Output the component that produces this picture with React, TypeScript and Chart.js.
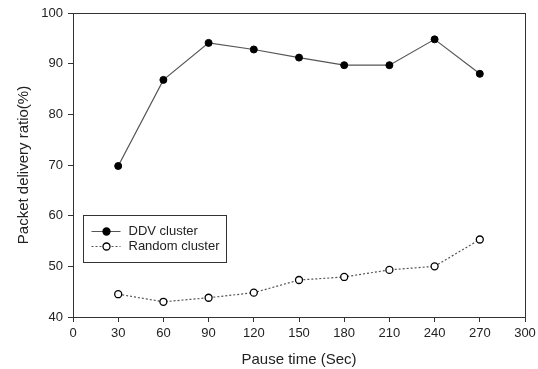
import React, { useEffect, useRef } from "react";
import { Chart, registerables } from "chart.js";

Chart.register(...registerables);

const pauseTimes = [30, 60, 90, 120, 150, 180, 210, 240, 270];
const ddvCluster = [69.8, 86.8, 94.1, 92.8, 91.2, 89.7, 89.7, 94.8, 88.0];
const randomCluster = [44.5, 43.0, 43.8, 44.8, 47.3, 47.9, 49.3, 50.0, 55.3];
const seriesNames = ["DDV cluster", "Random cluster"];
const xTitle = "Pause time (Sec)";
const yTitle = "Packet delivery ratio(%)";

const FONT = "'Liberation Sans', Arial, sans-serif";
const TEXT = "#222";

const frameAndLegend = {
  id: "frameAndLegend",
  afterDraw(chart: any) {
    const { ctx, chartArea } = chart;
    ctx.save();
    ctx.strokeStyle = "#333";
    ctx.lineWidth = 1;
    ctx.strokeRect(
      Math.round(chartArea.left) + 0.5,
      Math.round(chartArea.top) + 0.5,
      Math.round(chartArea.right - chartArea.left),
      Math.round(chartArea.bottom - chartArea.top)
    );
    // legend box
    const bx = chartArea.left + 10.5;
    const by = chartArea.top + 202.5;
    const bw = 143;
    const bh = 47;
    ctx.strokeStyle = "#333";
    ctx.fillStyle = "#fff";
    ctx.fillRect(bx, by, bw, bh);
    ctx.strokeRect(bx, by, bw, bh);
    const rows = [
      { y: by + 16, dash: [], fill: "#000", name: seriesNames[0] },
      { y: by + 31, dash: [2, 2], fill: "#fff", name: seriesNames[1] },
    ];
    ctx.font = `13px ${FONT}`;
    ctx.textBaseline = "middle";
    for (const r of rows) {
      ctx.beginPath();
      ctx.setLineDash(r.dash);
      ctx.strokeStyle = "#555";
      ctx.moveTo(bx + 8, r.y);
      ctx.lineTo(bx + 37, r.y);
      ctx.stroke();
      ctx.setLineDash([]);
      ctx.beginPath();
      ctx.arc(bx + 23, r.y, 3.5, 0, Math.PI * 2);
      ctx.fillStyle = r.fill;
      ctx.fill();
      ctx.strokeStyle = "#000";
      ctx.lineWidth = 1.3;
      ctx.stroke();
      ctx.lineWidth = 1;
      ctx.fillStyle = TEXT;
      ctx.textAlign = "left";
      ctx.fillText(r.name, bx + 45, r.y);
    }
    ctx.restore();
  },
};

export default function App() {
  const ref = useRef<HTMLCanvasElement | null>(null);
  useEffect(() => {
    document.body.style.margin = "0";
    const chart = new Chart(ref.current!, {
      type: "line",
      data: {
        datasets: [
          {
            label: seriesNames[0],
            data: pauseTimes.map((x, i) => ({ x, y: ddvCluster[i] })),
            borderColor: "#555",
            borderWidth: 1.2,
            pointBackgroundColor: "#000",
            pointBorderColor: "#000",
            pointRadius: 3.5,
            pointBorderWidth: 1,
            tension: 0,
          },
          {
            label: seriesNames[1],
            data: pauseTimes.map((x, i) => ({ x, y: randomCluster[i] })),
            borderColor: "#555",
            borderWidth: 1.2,
            borderDash: [2, 2],
            pointBackgroundColor: "#fff",
            pointBorderColor: "#000",
            pointRadius: 3.5,
            pointBorderWidth: 1.3,
            tension: 0,
          },
        ],
      },
      options: {
        animation: false,
        responsive: false,
        layout: { padding: { top: 13, right: 13, left: 0, bottom: 0 } },
        plugins: { legend: { display: false }, tooltip: { enabled: false } },
        scales: {
          x: {
            type: "linear",
            min: 0,
            max: 300,
            ticks: { stepSize: 30, color: TEXT, font: { family: FONT, size: 13 }, padding: 4, maxRotation: 0 },
            grid: { drawOnChartArea: false, drawTicks: true, tickLength: 5, color: "#333" },
            border: { color: "#333" },
            title: { display: true, text: xTitle, color: TEXT, font: { family: FONT, size: 15 }, padding: { top: 4, bottom: 0 } },
            afterFit: (s: any) => { s.height = 52; s.paddingRight = 0; s.paddingLeft = 0; },
          },
          y: {
            min: 40,
            max: 100,
            ticks: { stepSize: 10, color: TEXT, font: { family: FONT, size: 13 }, padding: 5 },
            grid: { drawOnChartArea: false, drawTicks: true, tickLength: 5, color: "#333" },
            border: { color: "#333" },
            title: { display: true, text: yTitle, color: TEXT, font: { family: FONT, size: 15 }, padding: { top: 15, bottom: 8 } },
            afterFit: (s: any) => { s.width = 73; s.paddingTop = 0; s.paddingBottom = 0; },
          },
        },
      },
      plugins: [frameAndLegend],
    });
    return () => chart.destroy();
  }, []);
  return (
    <div style={{ width: 538, height: 369, background: "#fff" }}>
      <canvas ref={ref} width={538} height={369} />
    </div>
  );
}
